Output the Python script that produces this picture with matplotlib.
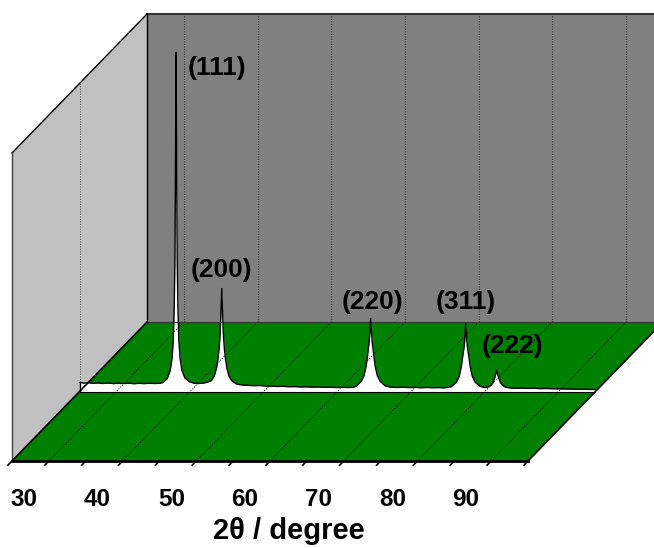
import matplotlib.pyplot as plt
import numpy as np

# XRD pattern (2theta in degree, intensity in counts)
two_theta = [25.0, 25.6, 26.2, 26.8, 27.5, 28.2, 28.9, 29.6, 30.3, 31.0, 31.7, 32.4,
             33.1, 33.8, 34.5, 35.2, 35.9, 36.3, 36.9, 37.3, 37.55, 37.72, 37.85, 37.94,
             38.02, 38.1, 38.18, 38.26, 38.35, 38.48, 38.65, 38.9, 39.3, 39.9, 40.5, 41.1,
             41.7, 42.3, 42.9, 43.3, 43.6, 43.8, 43.95, 44.1, 44.2, 44.3, 44.4, 44.5,
             44.65, 44.8, 45.0, 45.3, 45.7, 46.3, 47.0, 47.8, 48.6, 49.4, 50.2, 51.0,
             51.8, 52.6, 53.4, 54.2, 55.0, 55.8, 56.6, 57.4, 58.2, 59.0, 59.8, 60.6,
             61.4, 62.0, 62.5, 63.2, 63.6, 63.9, 64.1, 64.3, 64.4, 64.5, 64.6, 64.7,
             64.9, 65.1, 65.4, 65.8, 66.5, 67.3, 68.1, 68.9, 69.7, 70.5, 71.3, 72.1,
             72.9, 73.7, 74.5, 75.4, 76.1, 76.5, 76.8, 77.0, 77.2, 77.3, 77.4, 77.5,
             77.6, 77.8, 78.0, 78.3, 78.7, 79.4, 80.0, 80.4, 80.8, 81.1, 81.3, 81.45,
             81.6, 81.75, 81.9, 82.1, 82.4, 82.8, 83.5, 84.3, 85.1, 85.9, 86.7, 87.5,
             88.3, 89.1, 89.9, 90.7, 91.5, 92.3, 93.1, 93.9, 94.5, 95.0]
intensity = [90, 84, 88, 82, 86, 80, 85, 79, 84, 80, 83, 78,
             82, 79, 83, 80, 82, 90, 130, 210, 330, 510, 840, 1300,
             2200, 3390, 2200, 1300, 840, 510, 330, 210, 135, 98, 84, 80,
             83, 92, 110, 160, 240, 340, 440, 600, 800, 1030, 800, 600,
             430, 330, 230, 150, 105, 75, 66, 62, 58, 60, 55, 54,
             50, 52, 48, 49, 46, 47, 44, 45, 42, 43, 40, 42,
             40, 41, 52, 100, 160, 260, 380, 500, 600, 730, 600, 500,
             380, 260, 160, 100, 55, 42, 40, 43, 39, 41, 38, 40,
             38, 39, 37, 48, 90, 150, 250, 360, 460, 560, 680, 560,
             460, 360, 250, 150, 90, 50, 40, 45, 60, 90, 130, 170,
             210, 170, 130, 90, 60, 42, 35, 33, 34, 31, 32, 29,
             30, 28, 27, 26, 25, 24, 23, 22, 21, 20]

peak_labels = ['(111)', '(200)', '(220)', '(311)', '(222)']
label_theta = [43.65, 44.2, 64.7, 77.4, 83.7]
label_counts = [3235, 1215, 895, 895, 455]

major_ticks = [30, 40, 50, 60, 70, 80, 90]
all_ticks = [25, 30, 35, 40, 45, 50, 55, 60, 65, 70, 75, 80, 85, 90, 95]

# oblique box geometry (pixels)
T_MIN, T_MAX = 25, 95
Z_MAX = 3080
X0, Y0 = 12, 461
SX = 7.371      # px per degree
SZ = 0.1        # px per count
DX, DY = 135, 139
TRACE_DEPTH = 0.5


def proj(t, d, z):
    t = np.asarray(t, dtype=float)
    z = np.asarray(z, dtype=float)
    x = X0 + SX * (t - T_MIN) + DX * d
    y = Y0 - DY * d - SZ * z
    return x, y


def poly(corners, **kw):
    pts = [proj(*c) for c in corners]
    xs = [p[0] for p in pts]
    ys = [p[1] for p in pts]
    ax.fill(xs, ys, **kw)


def seg(c1, c2, **kw):
    x1, y1 = proj(*c1)
    x2, y2 = proj(*c2)
    ax.plot([x1, x2], [y1, y2], **kw)


fig = plt.figure(figsize=(6.54, 5.48), dpi=100)
ax = fig.add_axes([0, 0, 1, 1])
ax.set_xlim(0, 654)
ax.set_ylim(548, 0)
ax.axis('off')

# walls and floor
poly([(T_MIN, 1, 0), (T_MIN, 1, Z_MAX), (T_MAX, 1, Z_MAX), (T_MAX, 1, 0)],
     facecolor='#808080', edgecolor='none')
poly([(T_MIN, 0, 0), (T_MIN, 0, Z_MAX), (T_MIN, 1, Z_MAX), (T_MIN, 1, 0)],
     facecolor='#c0c0c0', edgecolor='none')
poly([(T_MIN, 0, 0), (T_MAX, 0, 0), (T_MAX, 1, 0), (T_MIN, 1, 0)],
     facecolor='#008000', edgecolor='none')

# grid lines
for t in major_ticks:
    seg((t, 1, 0), (t, 1, Z_MAX), color='#333333', lw=0.6, ls=(0, (1.5, 1.5)))
    seg((t, 0, 0), (t, 1, 0), color='#1a1a1a', lw=0.6, ls=(0, (1.5, 1.5)))
seg((T_MIN, TRACE_DEPTH, 0), (T_MIN, TRACE_DEPTH, Z_MAX), color='#555555', lw=0.6,
    ls=(0, (1.5, 1.5)))

# box edges
seg((T_MIN, 1, Z_MAX), (T_MAX, 1, Z_MAX), color='#333333', lw=1.5)
seg((T_MIN, 1, 0), (T_MIN, 1, Z_MAX), color='black', lw=1.0)
seg((T_MIN, 0, Z_MAX), (T_MIN, 1, Z_MAX), color='black', lw=1.0)
seg((T_MIN, 0, 0), (T_MIN, 0, Z_MAX), color='#444444', lw=1.0)
seg((T_MIN, 1, 0), (T_MAX, 1, 0), color='#333333', lw=0.8)
seg((T_MIN, 0, 0), (T_MIN, 1, 0), color='black', lw=1.2)
seg((T_MAX, 0, 0), (T_MAX, 1, 0), color='black', lw=1.2)
seg((T_MIN, 0, 0), (T_MAX, 0, 0), color='black', lw=2.0)

# XRD trace as a white ribbon
tx, ty = proj(two_theta, TRACE_DEPTH, intensity)
bx, by = proj(two_theta, TRACE_DEPTH, np.zeros(len(two_theta)))
ax.fill_between(tx, ty, by, color='white', lw=0)
ax.plot(tx, ty, color='black', lw=1.0)
ax.plot(bx, by, color='black', lw=0.8)
ax.plot([tx[0], bx[0]], [ty[0], by[0]], color='black', lw=1.0)

# peak labels
for lab, t, c in zip(peak_labels, label_theta, label_counts):
    lx, ly = proj(t, TRACE_DEPTH, c)
    ax.text(lx, ly, lab, ha='center', va='center', fontsize=19,
            fontweight='bold', family='Liberation Sans')

# ticks and tick labels
for t in all_ticks:
    seg((t, 0, 0), (t, -0.03, 0), color='black', lw=1.2)
for t in major_ticks:
    x, y = proj(t, 0, 0)
    ax.text(x - 25, y + 39, str(t), ha='center', va='center', fontsize=17.5,
            fontweight='bold', family='Liberation Sans')

ax.text(289, 531, '2\u03b8 / degree', ha='center', va='center', fontsize=21,
        fontweight='bold', family='Liberation Sans')

fig.savefig('out.png', dpi=100)
